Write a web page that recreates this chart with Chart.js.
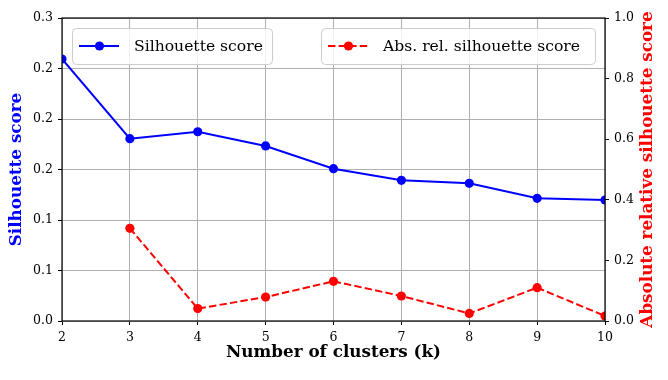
<!DOCTYPE html>
<html><head><meta charset="utf-8">
<script src="https://cdn.jsdelivr.net/npm/chart.js@4"></script>
<style>html,body{margin:0;padding:0;background:#fff}</style>
</head><body>
<canvas id="c" width="668" height="380" style="width:668px;height:380px;display:block"></canvas>
<script>
const clusters = ['2','3','4','5','6','7','8','9','10'];
const silhouette = [0.2594, 0.1805, 0.1874, 0.1733, 0.1508, 0.1393, 0.1363, 0.1215, 0.1198];
const absRelSilhouette = [null, 0.306, 0.041, 0.079, 0.131, 0.0825, 0.025, 0.110, 0.0165];
const leftTickLabels = ['0.0', '0.1', '0.1', '0.2', '0.2', '0.2', '0.3'];
const rightTickLabels = ['0.0', '0.2', '0.4', '0.6', '0.8', '1.0'];

const FONT = "'DejaVu Serif', serif";
const TICK_FONT = {family: FONT, size: 12.5};
const TITLE_FONT = {family: FONT, size: 16.8, weight: 'bold'};
const LEGEND_SIZE = 15.6;

const framePlugin = {
  id: 'frame',
  afterDatasetsDraw(chart) {
    const {ctx, chartArea: a} = chart;
    ctx.save();
    ctx.strokeStyle = '#000';
    ctx.lineWidth = 1.2;
    ctx.strokeRect(a.left, a.top, a.right - a.left, a.bottom - a.top);
    ctx.restore();
  },
  afterDraw(chart) {
    const {ctx, chartArea: a} = chart;
    ctx.save();
    // right axis title (reads bottom to top)
    ctx.translate(648, (a.top + a.bottom) / 2);
    ctx.rotate(-Math.PI / 2);
    ctx.font = `bold ${TITLE_FONT.size}px ${FONT}`;
    ctx.fillStyle = '#ff0000';
    ctx.textAlign = 'center';
    ctx.textBaseline = 'middle';
    ctx.fillText('Absolute relative silhouette score', 0, 0);
    ctx.restore();

    // legends
    const items = [
      {x: a.left + 10, w: 200, label: 'Silhouette score', color: '#0000ff', dash: []},
      {x: a.left + 259, w: 274, label: 'Abs. rel. silhouette score', color: '#ff0000', dash: [7.4, 3.2]}
    ];
    const y = a.top + 10, h = 36;
    items.forEach(it => {
      ctx.save();
      ctx.beginPath();
      ctx.roundRect(it.x + 0.5, y + 0.5, it.w, h, 4);
      ctx.fillStyle = 'rgba(255,255,255,0.8)';
      ctx.fill();
      ctx.strokeStyle = '#cccccc';
      ctx.lineWidth = 1;
      ctx.stroke();
      const cy = y + h / 2;
      ctx.beginPath();
      ctx.setLineDash(it.dash);
      ctx.strokeStyle = it.color;
      ctx.lineWidth = 2;
      ctx.moveTo(it.x + 7, cy);
      ctx.lineTo(it.x + 47, cy);
      ctx.stroke();
      ctx.setLineDash([]);
      ctx.beginPath();
      ctx.arc(it.x + 27.5, cy, 4.6, 0, Math.PI * 2);
      ctx.fillStyle = it.color;
      ctx.fill();
      ctx.font = `${LEGEND_SIZE}px ${FONT}`;
      ctx.fillStyle = '#000';
      ctx.textAlign = 'left';
      ctx.textBaseline = 'middle';
      ctx.fillText(it.label, it.x + 62, cy + 1);
      ctx.restore();
    });
  }
};

new Chart(document.getElementById('c'), {
  type: 'line',
  data: {
    labels: clusters,
    datasets: [
      {
        label: 'Silhouette score',
        data: silhouette,
        yAxisID: 'y',
        borderColor: '#0000ff',
        backgroundColor: '#0000ff',
        borderWidth: 2,
        pointRadius: 4.6,
        pointHoverRadius: 4.6,
        pointBorderWidth: 0,
        tension: 0,
        clip: 0
      },
      {
        label: 'Abs. rel. silhouette score',
        data: absRelSilhouette,
        yAxisID: 'y2',
        borderColor: '#ff0000',
        backgroundColor: '#ff0000',
        borderWidth: 2,
        borderDash: [7.4, 3.2],
        pointRadius: 4.6,
        pointHoverRadius: 4.6,
        pointBorderWidth: 0,
        tension: 0,
        spanGaps: false,
        clip: 0
      }
    ]
  },
  options: {
    responsive: false,
    animation: false,
    devicePixelRatio: 1,
    layout: {padding: {top: 18, left: 0, right: 0, bottom: 0}},
    plugins: {legend: {display: false}, tooltip: {enabled: false}},
    scales: {
      x: {
        type: 'category',
        offset: false,
        afterFit: s => { s.height = 59; },
        grid: {color: '#b0b0b0', lineWidth: 1, tickLength: 4, tickColor: '#000', drawOnChartArea: true},
        border: {display: false},
        ticks: {color: '#000', font: TICK_FONT, padding: 5, maxRotation: 0, autoSkip: false},
        title: {display: true, text: 'Number of clusters (k)', color: '#000', font: TITLE_FONT, padding: {top: 0, bottom: 17}}
      },
      y: {
        position: 'left',
        min: 0, max: 0.3,
        afterFit: s => { s.width = 62; },
        grid: {color: '#b0b0b0', lineWidth: 1, tickLength: 4, tickColor: '#000'},
        border: {display: false},
        ticks: {stepSize: 0.05, color: '#000', font: TICK_FONT, padding: 5,
          callback: (v, i) => leftTickLabels[i]},
        title: {display: true, text: 'Silhouette score', color: '#0000ff', font: TITLE_FONT, padding: {top: 7, bottom: 0}}
      },
      y2: {
        position: 'right',
        min: 0, max: 1,
        afterFit: s => { s.width = 63; },
        grid: {drawOnChartArea: false, tickLength: 4, tickColor: '#000', color: '#000'},
        border: {display: false},
        ticks: {stepSize: 0.2, color: '#000', font: TICK_FONT, padding: 5,
          callback: (v, i) => rightTickLabels[i]}
      }
    }
  },
  plugins: [framePlugin]
});
</script>
</body></html>
